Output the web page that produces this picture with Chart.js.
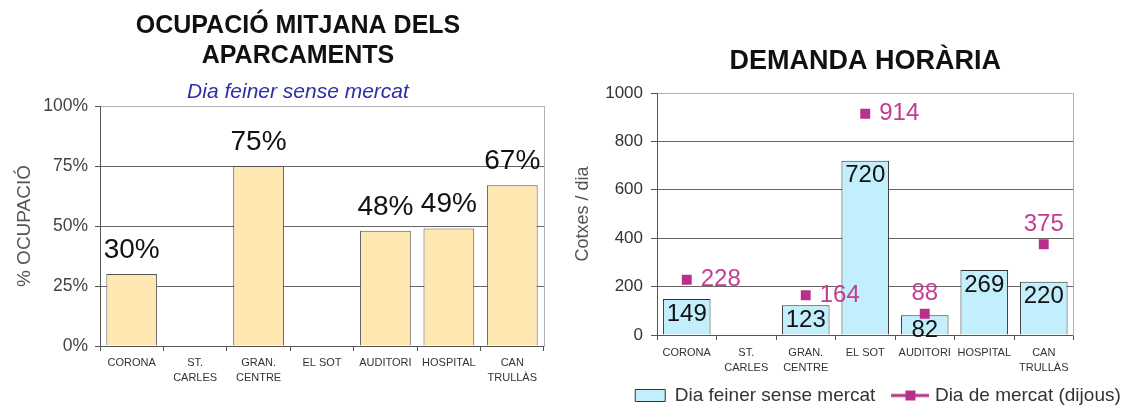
<!DOCTYPE html>
<html>
<head>
<meta charset="utf-8">
<title>Aparcaments</title>
<script src="https://cdn.jsdelivr.net/npm/chart.js@4.4.1/dist/chart.umd.min.js"></script>
<style>
  html, body { margin: 0; padding: 0; background: #fff; overflow: hidden; width: 1125px; height: 410px; }
  #demanda { position: absolute; left: 560px; top: 0; }
  #ocupacio { position: absolute; left: 0; top: 0; }
</style>
</head>
<body>
<canvas id="demanda" width="636" height="415"></canvas>
<canvas id="ocupacio" width="596" height="410"></canvas>
<script>
// Car parks and their figures
const parkings = ['CORONA', ['ST.', 'CARLES'], ['GRAN.', 'CENTRE'], 'EL SOT', 'AUDITORI', 'HOSPITAL', ['CAN', 'TRULLÀS']];
const occupancyPct = [30, null, 75, null, 48, 49, 67];          // % ocupació, dia feiner
const carsWeekday = [149, null, 123, 720, 82, 269, 220];        // cotxes/dia, dia feiner sense mercat
const carsMarketDay = [228, null, 164, 914, 88, null, 375];     // cotxes/dia, dijous de mercat
const pctTicks = [0, 25, 50, 75, 100];
const carTicks = [0, 200, 400, 600, 800, 1000];

const FONT = "'Liberation Sans', Arial, sans-serif";
const CREAM = '#FFE7B2';
const CYAN = '#C2EFFB';
const MAGENTA = '#B8308A';

Chart.defaults.font.family = FONT;
Chart.defaults.color = '#333';

// Writes each value next to its bar or point
function valueLabels(id, sets) {
    return {
        id: id,
        afterDatasetsDraw(chart) {
            const ctx = chart.ctx;
            ctx.save();
            sets.forEach((cfg, di) => {
                const meta = chart.getDatasetMeta(di);
                const values = chart.data.datasets[di].data;
                meta.data.forEach((el, i) => {
                    const v = values[i];
                    if (v === null || v === undefined) return;
                    const place = Array.isArray(cfg.place) ? cfg.place[i] : cfg.place;
                    let x = el.x, y = el.y;
                    ctx.font = cfg.font;
                    ctx.fillStyle = cfg.color;
                    if (place === 'above') {
                        ctx.textAlign = 'center'; ctx.textBaseline = 'alphabetic'; y -= cfg.gap;
                    } else if (place === 'inside') {
                        ctx.textAlign = 'center'; ctx.textBaseline = 'middle'; y += cfg.gap;
                    } else if (place === 'right') {
                        ctx.textAlign = 'left'; ctx.textBaseline = 'middle'; x += cfg.gap;
                    } else {
                        ctx.textAlign = 'center'; ctx.textBaseline = 'middle'; y -= cfg.gap + 6;
                    }
                    ctx.fillText(v + (cfg.suffix || ''), x, y);
                });
            });
            ctx.restore();
        }
    };
}

// Shared x axis: category names with small ticks between bars
function categoryAxis(labelPadding, height) {
    return {
        grid: { drawOnChartArea: false, offset: true, tickLength: 5, tickColor: '#555' },
        border: { color: '#555' },
        ticks: { color: '#333', font: { size: 11, lineHeight: 15 / 11 }, padding: labelPadding, maxRotation: 0, autoSkip: false },
        afterFit: s => { s.height = height; }
    };
}

// Invisible right axis, only there for the plot frame on the right
function frameAxis(width) {
    return {
        type: 'linear', position: 'right',
        grid: { display: false },
        ticks: { display: false },
        border: { color: '#b0b0b0' },
        afterFit: s => { s.width = width; }
    };
}

// Occupancy chart
new Chart(document.getElementById('ocupacio'), {
    type: 'bar',
    data: {
        labels: parkings,
        datasets: [{
            label: 'Dia feiner sense mercat',
            data: occupancyPct,
            backgroundColor: CREAM,
            borderColor: '#555',
            borderWidth: 1,
            barPercentage: 0.8,
            categoryPercentage: 1
        }]
    },
    options: {
        responsive: false,
        animation: false,
        devicePixelRatio: 1,
        plugins: {
            legend: { display: false },
            tooltip: { enabled: false },
            title: {
                display: true,
                text: ['OCUPACIÓ MITJANA DELS', 'APARCAMENTS'],
                color: '#111',
                font: { size: 25, weight: 'bold', lineHeight: 1.2 },
                padding: { top: 11.5, bottom: 0 }
            },
            subtitle: {
                display: true,
                text: 'Dia feiner sense mercat',
                color: '#2e2ea8',
                font: { size: 21, style: 'italic', lineHeight: 1.2 },
                padding: { top: 8.4, bottom: 0.9 }
            }
        },
        scales: {
            x: categoryAxis(4.5, 64),
            y: {
                min: pctTicks[0],
                max: pctTicks[pctTicks.length - 1],
                ticks: {
                    stepSize: pctTicks[1] - pctTicks[0],
                    callback: v => v + '%',
                    color: '#444',
                    font: { size: 17.5 },
                    padding: 7
                },
                grid: {
                    color: c => (c.tick && c.tick.value === pctTicks[pctTicks.length - 1]) ? '#b0b0b0' : '#666',
                    tickColor: '#555',
                    tickLength: 5
                },
                border: { color: '#555' },
                title: { display: true, text: '% OCUPACIÓ', color: '#555', font: { size: 19 }, padding: { top: 13.6, bottom: 0 } },
                afterFit: s => { s.width = 100; }
            },
            frame: frameAxis(52)
        }
    },
    plugins: [valueLabels('pctLabels', [
        { place: 'above', gap: 16, suffix: '%', font: '28px ' + FONT, color: '#111' }
    ])]
});

// Legend glyph for the market-day series: line with a square marker
const marketGlyph = document.createElement('canvas');
marketGlyph.width = 38;
marketGlyph.height = 12;
(function () {
    const g = marketGlyph.getContext('2d');
    g.fillStyle = MAGENTA;
    g.fillRect(0, 4.5, 38, 3);
    g.fillRect(14, 1, 10, 10);
})();

// Daily demand chart
new Chart(document.getElementById('demanda'), {
    type: 'bar',
    data: {
        labels: parkings,
        datasets: [{
            type: 'bar',
            label: 'Dia feiner sense mercat',
            data: carsWeekday,
            backgroundColor: CYAN,
            borderColor: '#333',
            borderWidth: 1,
            barPercentage: 0.8,
            categoryPercentage: 1,
            order: 1
        }, {
            type: 'line',
            label: 'Dia de mercat (dijous)',
            data: carsMarketDay,
            showLine: false,
            pointStyle: 'rect',
            pointRadius: 7,
            pointBorderWidth: 0,
            backgroundColor: MAGENTA,
            borderColor: MAGENTA,
            order: 0
        }]
    },
    options: {
        responsive: false,
        animation: false,
        devicePixelRatio: 1,
        plugins: {
            tooltip: { enabled: false },
            title: {
                display: true,
                text: 'DEMANDA HORÀRIA',
                fullSize: false,
                color: '#111',
                font: { size: 27, weight: 'bold', lineHeight: 1.2 },
                padding: { top: 45, bottom: 15.6 }
            },
            legend: {
                position: 'bottom',
                labels: {
                    color: '#333',
                    font: { size: 19 },
                    boxWidth: 30,
                    boxHeight: 12,
                    padding: 9.5,
                    usePointStyle: true,
                    pointStyleWidth: 30,
                    generateLabels(chart) {
                        const items = Chart.defaults.plugins.legend.labels.generateLabels(chart);
                        items.sort((a, b) => a.datasetIndex - b.datasetIndex);
                        items.forEach(item => {
                            if (item.datasetIndex === 1) {
                                item.pointStyle = marketGlyph;
                            } else {
                                item.pointStyle = 'rect';
                                item.text += '  '; // a little more room before the next entry
                            }
                        });
                        return items;
                    }
                }
            }
        },
        scales: {
            x: categoryAxis(5.5, 41.5),
            y: {
                min: carTicks[0],
                max: carTicks[carTicks.length - 1],
                ticks: {
                    stepSize: carTicks[1] - carTicks[0],
                    callback: v => String(v),
                    color: '#333',
                    font: { size: 17 },
                    padding: 8
                },
                grid: {
                    color: c => (c.tick && c.tick.value === carTicks[carTicks.length - 1]) ? '#b0b0b0' : '#666',
                    tickColor: '#555',
                    tickLength: 6
                },
                border: { color: '#555' },
                title: { display: true, text: 'Cotxes / dia', color: '#555', font: { size: 18 }, padding: { top: 12.7, bottom: 0 } },
                afterFit: s => { s.width = 97; }
            },
            frame: frameAxis(122.5)
        }
    },
    plugins: [valueLabels('carLabels', [
        { place: 'inside', gap: 15, font: '24px ' + FONT, color: '#111' },
        { place: ['right', null, 'right', 'right', 'top', null, 'top'], gap: 14, font: '24px ' + FONT, color: '#C43C90' }
    ])]
});
</script>
</body>
</html>
